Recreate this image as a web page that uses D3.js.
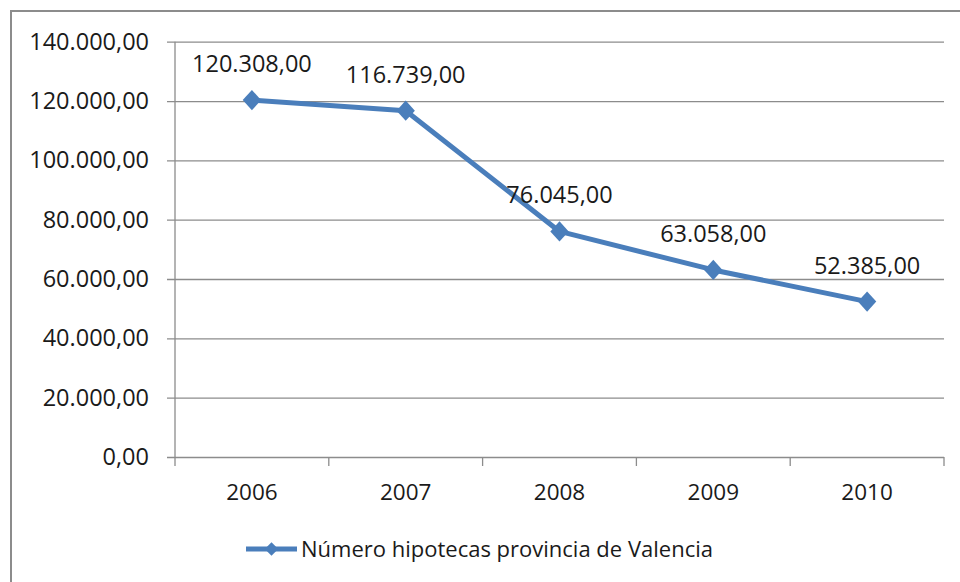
<!DOCTYPE html>
<html>
<head>
<meta charset="utf-8">
<script src="https://cdn.jsdelivr.net/npm/d3@7"></script>
<style>
  body { margin: 0; background: #fff; }
  svg text { font-family: "Open Sans", "Noto Sans", sans-serif; fill: #1a1a1a; }
</style>
</head>
<body>
<div id="chart"></div>
<script>
// data
var years = ["2006", "2007", "2008", "2009", "2010"];
var hipotecas = [120308, 116739, 76045, 63058, 52385];
var yTicks = [0, 20000, 40000, 60000, 80000, 100000, 120000, 140000];
var seriesName = "Número hipotecas provincia de Valencia";

var width = 960, height = 582;
var plot = {left: 175, right: 944, top: 41.7, bottom: 457};
var blue = "#4a7ebb";

var es = d3.formatLocale({decimal: ",", thousands: ".", grouping: [3], currency: ["", "€"]});
var fmt = es.format(",.2f");

var data = years.map((y, i) => ({year: y, value: hipotecas[i]}));

const svg = d3.select("#chart")
                .append("svg")
                .attr("width", width)
                .attr("height", height);

// outer frame of the chart (cut off right and bottom)
svg.append("rect")
    .attr("x", 11).attr("y", 11)
    .attr("width", 1000).attr("height", 700)
    .attr("fill", "none")
    .attr("stroke", "#8c8c8c")
    .attr("stroke-width", 2);

var xScale = d3.scaleBand()
                .domain(years)
                .range([plot.left, plot.right])
                .padding(0);

var yScale = d3.scaleLinear()
                .domain([0, 140000])
                .range([plot.bottom, plot.top]);

// gridlines + y axis
var yAxis = d3.axisLeft(yScale)
                .tickValues(yTicks)
                .tickSize(-(plot.right - plot.left))
                .tickFormat(fmt);

var gy = svg.append("g")
    .attr("transform", `translate(${plot.left},0)`)
    .call(yAxis);
gy.select(".domain").remove();
gy.selectAll(".tick line")
    .attr("x1", -8)
    .attr("stroke", "#8c8c8c")
    .attr("stroke-width", 1.3);
gy.selectAll(".tick text")
    .attr("x", -26)
    .style("font-size", "23.5px")
    .attr("fill", "#1a1a1a");

// axis lines
svg.append("line")
    .attr("x1", plot.left).attr("x2", plot.left)
    .attr("y1", plot.top).attr("y2", plot.bottom)
    .attr("stroke", "#8c8c8c").attr("stroke-width", 1.3);

// category ticks on band edges
var edges = years.map(y => xScale(y)).concat([plot.right]);
svg.selectAll(".xtick")
    .data(edges)
    .enter()
    .append("line")
    .attr("class", "xtick")
    .attr("x1", d => d).attr("x2", d => d)
    .attr("y1", plot.bottom).attr("y2", plot.bottom + 9)
    .attr("stroke", "#8c8c8c").attr("stroke-width", 1.3);

svg.selectAll(".xlabel")
    .data(years)
    .enter()
    .append("text")
    .attr("class", "xlabel")
    .attr("x", d => xScale(d) + xScale.bandwidth() / 2)
    .attr("y", 500)
    .attr("text-anchor", "middle")
    .style("font-size", "22.5px")
    .text(d => d);

// the line
var line = d3.line()
            .x(d => xScale(d.year) + xScale.bandwidth() / 2)
            .y(d => yScale(d.value))
            .curve(d3.curveLinear);

svg.append("path")
    .datum(data)
    .attr("d", line)
    .attr("fill", "none")
    .attr("stroke", blue)
    .attr("stroke-width", 5)
    .attr("stroke-linejoin", "round");

var diamond = d3.symbol().type(d3.symbolDiamond2).size(215);

svg.selectAll(".point")
    .data(data)
    .enter()
    .append("path")
    .attr("class", "point")
    .attr("d", diamond)
    .attr("transform", d => `translate(${xScale(d.year) + xScale.bandwidth() / 2},${yScale(d.value)}) scale(1,1.1)`)
    .attr("fill", blue);

// value labels
svg.selectAll(".vlabel")
    .data(data)
    .enter()
    .append("text")
    .attr("class", "vlabel")
    .attr("x", d => xScale(d.year) + xScale.bandwidth() / 2)
    .attr("y", d => yScale(d.value) - 28)
    .attr("text-anchor", "middle")
    .style("font-size", "23.5px")
    .text(d => fmt(d.value));

// legend
var leg = svg.append("g").attr("transform", "translate(246,549)");
leg.append("line")
    .attr("x1", 0).attr("x2", 51)
    .attr("stroke", blue).attr("stroke-width", 5);
leg.append("path")
    .attr("d", d3.symbol().type(d3.symbolDiamond2).size(115))
    .attr("transform", "translate(25.5,0)")
    .attr("fill", blue);
leg.append("text")
    .attr("x", 55)
    .attr("y", 8)
    .style("font-size", "22px")
    .text(seriesName);
</script>
</body>
</html>
